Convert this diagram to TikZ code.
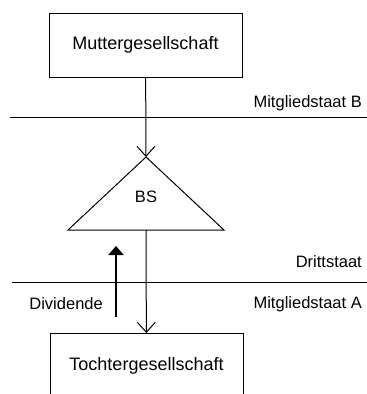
\documentclass[tikz,border=0pt]{standalone}
\usepackage{fontspec}
\setmainfont{Liberation Sans}
\usetikzlibrary{arrows.meta}

\begin{document}
\begin{tikzpicture}
	[x=1pt,y=-1pt,%%%%%%%%%%%%%%%%%%%%%%%%%%%%%%
	box/.style={rectangle,draw=black,line width=1pt,minimum width=193pt,inner sep=0pt,font=\fontsize{18}{20}\selectfont},
	staat/.style={anchor=east,inner sep=0pt,font=\fontsize{16.5}{18}\selectfont},
	grenze/.style={line width=1pt},
	fluss/.style={line width=1pt,-{Straight Barb[length=10pt,width=18pt]}},
	dividende/.style={line width=2.3pt,-{Triangle[length=9pt,width=15pt]}},
	]%%%%%%%%%%%%%%%%%%%%%%%%%%%%%%
	\useasboundingbox (0,0) rectangle (367,394);
	\clip (0,0) rectangle (367,394);
	
	\node[box,minimum height=64pt] (mutter) at (145.5,45){Muttergesellschaft};
	\node[box,text height=36.5pt,text depth=40pt,anchor=north] (tochter) at (146.5,333){Tochtergesellschaft};
	
	\draw[grenze] (10,117) -- (367,117);
	\draw[grenze] (12,282) -- (367,282);
	\node[staat] (staatB) at (362,103){Mitgliedstaat B};
	\node[staat] (dritt) at (362,262){Drittstaat};
	\node[staat] (staatA) at (362,304){Mitgliedstaat A};
	\node[staat] (divlabel) at (103,304){Dividende};
	
	\coordinate (apex) at (146,157);
	\coordinate (basis) at (146,230);
	\draw[line width=1pt] (apex) -- (224,230) -- (68,230) -- cycle;
	\node[font=\fontsize{16.5}{18}\selectfont] (bs) at (146,197){BS};
	
	\draw[fluss] (mutter) -- (apex);
	\draw[fluss] (basis) -- (tochter);
	
	\coordinate (divstart) at (116,317);
	\coordinate (divend) at (116,246);
	\draw[dividende] (divstart) -- (divend);
	
	\end{tikzpicture}
\end{document}
